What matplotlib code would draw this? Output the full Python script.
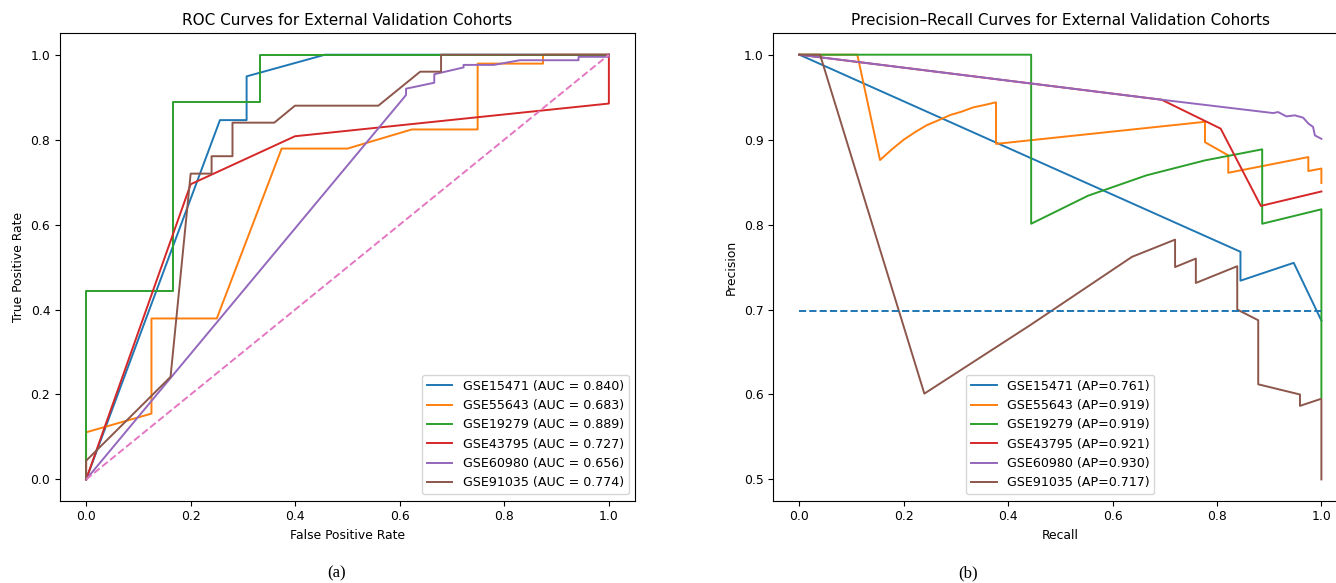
import matplotlib
matplotlib.use("Agg")
import matplotlib.pyplot as plt

# ROC curves (FPR, TPR)
roc_names = ["GSE15471", "GSE55643", "GSE19279", "GSE43795", "GSE60980", "GSE91035"]
roc_auc = [0.840, 0.683, 0.889, 0.727, 0.656, 0.774]

roc_fpr_15471 = [0.0, 0.256, 0.307, 0.307, 0.457, 1.0]
roc_tpr_15471 = [0.0, 0.846, 0.846, 0.949, 1.0, 1.0]

roc_fpr_55643 = [0.0, 0.0, 0.125, 0.125, 0.25, 0.374, 0.5, 0.623, 0.749, 0.749, 0.874, 0.874, 1.0]
roc_tpr_55643 = [0.0, 0.111, 0.155, 0.379, 0.379, 0.779, 0.779, 0.824, 0.824, 0.979, 0.979, 1.0, 1.0]

roc_fpr_19279 = [0.0, 0.0, 0.1667, 0.1667, 0.333, 0.333, 1.0]
roc_tpr_19279 = [0.0, 0.444, 0.444, 0.889, 0.889, 1.0, 1.0]

roc_fpr_43795 = [0.0, 0.200, 0.3995, 1.0, 1.0]
roc_tpr_43795 = [0.0, 0.695, 0.808, 0.885, 1.0]

roc_fpr_60980 = [0.0, 0.612, 0.612, 0.666, 0.666, 0.722, 0.722, 0.78, 0.83, 0.942, 0.942, 1.0, 1.0]
roc_tpr_60980 = [0.0, 0.905, 0.920, 0.934, 0.954, 0.970, 0.976, 0.976, 0.987, 0.987, 0.995, 0.995, 1.0]

roc_fpr_91035 = [0.0, 0.0, 0.1615, 0.200, 0.240, 0.240, 0.280, 0.280, 0.360, 0.3995, 0.559, 0.639, 0.679, 0.679, 1.0]
roc_tpr_91035 = [0.0, 0.044, 0.2415, 0.720, 0.720, 0.761, 0.761, 0.840, 0.840, 0.880, 0.880, 0.960, 0.960, 1.0, 1.0]

# Precision-recall curves (recall, precision)
pr_ap = [0.761, 0.919, 0.919, 0.921, 0.930, 0.717]

pr_rec_15471 = [0.0, 0.845, 0.845, 0.947, 1.0]
pr_prec_15471 = [1.0, 0.768, 0.734, 0.755, 0.687]

pr_rec_55643 = [0.0, 0.111, 0.1545, 0.178, 0.200, 0.222, 0.244, 0.267, 0.289, 0.311, 0.333, 0.356, 0.3767,
                0.3767, 0.777, 0.777, 0.8216, 0.8216, 0.975, 0.975, 1.0, 1.0]
pr_prec_55643 = [1.0, 1.0, 0.876, 0.889, 0.900, 0.909, 0.917, 0.923, 0.929, 0.933, 0.938, 0.941, 0.944,
                 0.895, 0.921, 0.897, 0.8815, 0.861, 0.8795, 0.863, 0.866, 0.849]

pr_rec_19279 = [0.0, 0.444, 0.444, 0.553, 0.665, 0.777, 0.8866, 0.8866, 1.0, 1.0]
pr_prec_19279 = [1.0, 1.0, 0.801, 0.834, 0.858, 0.8756, 0.8886, 0.801, 0.818, 0.597]

pr_rec_43795 = [0.0, 0.694, 0.807, 0.884, 1.0]
pr_prec_43795 = [1.0, 0.947, 0.913, 0.822, 0.839]

pr_rec_60980 = [0.0, 0.694, 0.9077, 0.917, 0.933, 0.949, 0.965, 0.975, 0.984, 0.9875, 1.0]
pr_prec_60980 = [1.0, 0.947, 0.9313, 0.9325, 0.9274, 0.9286, 0.9259, 0.919, 0.915, 0.905, 0.901]

pr_rec_91035 = [0.0, 0.0396, 0.2394, 0.4418, 0.637, 0.7197, 0.7197, 0.7595, 0.7595, 0.8388, 0.8388,
                0.879, 0.879, 0.959, 0.959, 1.0, 1.0]
pr_prec_91035 = [1.0, 1.0, 0.601, 0.6815, 0.762, 0.7823, 0.750, 0.760, 0.7313, 0.751, 0.700,
                 0.6874, 0.612, 0.600, 0.5866, 0.595, 0.5]

baseline = 0.698

roc_curves = [
    (roc_fpr_15471, roc_tpr_15471), (roc_fpr_55643, roc_tpr_55643), (roc_fpr_19279, roc_tpr_19279),
    (roc_fpr_43795, roc_tpr_43795), (roc_fpr_60980, roc_tpr_60980), (roc_fpr_91035, roc_tpr_91035),
]
pr_curves = [
    (pr_rec_15471, pr_prec_15471), (pr_rec_55643, pr_prec_55643), (pr_rec_19279, pr_prec_19279),
    (pr_rec_43795, pr_prec_43795), (pr_rec_60980, pr_prec_60980), (pr_rec_91035, pr_prec_91035),
]
colors = ["tab:blue", "tab:orange", "tab:green", "tab:red", "tab:purple", "tab:brown"]

fs = 8.9
leg_fs = 9.1
title_fs = 11.0
lw = 1.4
plt.rcParams["font.size"] = fs

fig = plt.figure(figsize=(13.36, 5.83), dpi=100)
ax1 = fig.add_axes([0.0449, 0.1412, 0.4304, 0.8014])
ax2 = fig.add_axes([0.5788, 0.1412, 0.4298, 0.8014])

for (x, y), name, auc, c in zip(roc_curves, roc_names, roc_auc, colors):
    ax1.plot(x, y, color=c, lw=lw, label=f"{name} (AUC = {auc:.3f})")
ax1.plot([0, 1], [0, 1], linestyle="--", color="tab:pink", lw=lw)
ax1.set_xlim(-0.05, 1.05)
ax1.set_ylim(-0.05, 1.05)
ax1.set_xlabel("False Positive Rate", fontsize=fs)
ax1.set_ylabel("True Positive Rate", fontsize=fs)
ax1.set_title("ROC Curves for External Validation Cohorts", fontsize=title_fs)
ax1.legend(loc="lower right", fontsize=leg_fs)

for (x, y), name, ap, c in zip(pr_curves, roc_names, pr_ap, colors):
    ax2.plot(x, y, color=c, lw=lw, label=f"{name} (AP={ap:.3f})")
ax2.plot([0, 1], [baseline, baseline], linestyle="--", color="tab:blue", lw=lw)
ax2.set_xlim(-0.05, 1.05)
ax2.set_ylim(0.475, 1.025)
ax2.set_xlabel("Recall", fontsize=fs)
ax2.set_ylabel("Precision", fontsize=fs)
ax2.set_title("Precision\u2013Recall Curves for External Validation Cohorts", fontsize=title_fs)
ax2.legend(loc="lower center", fontsize=leg_fs)

for ax in (ax1, ax2):
    ax.tick_params(labelsize=fs)

fig.text(337 / 1336, 1 - 573 / 583, "(a)", family="Liberation Serif", fontsize=12, ha="center", va="center")
fig.text(968 / 1336, 1 - 573 / 583, "(b)", family="Liberation Serif", fontsize=12, ha="center", va="center")

fig.savefig("out.png", dpi=100)
